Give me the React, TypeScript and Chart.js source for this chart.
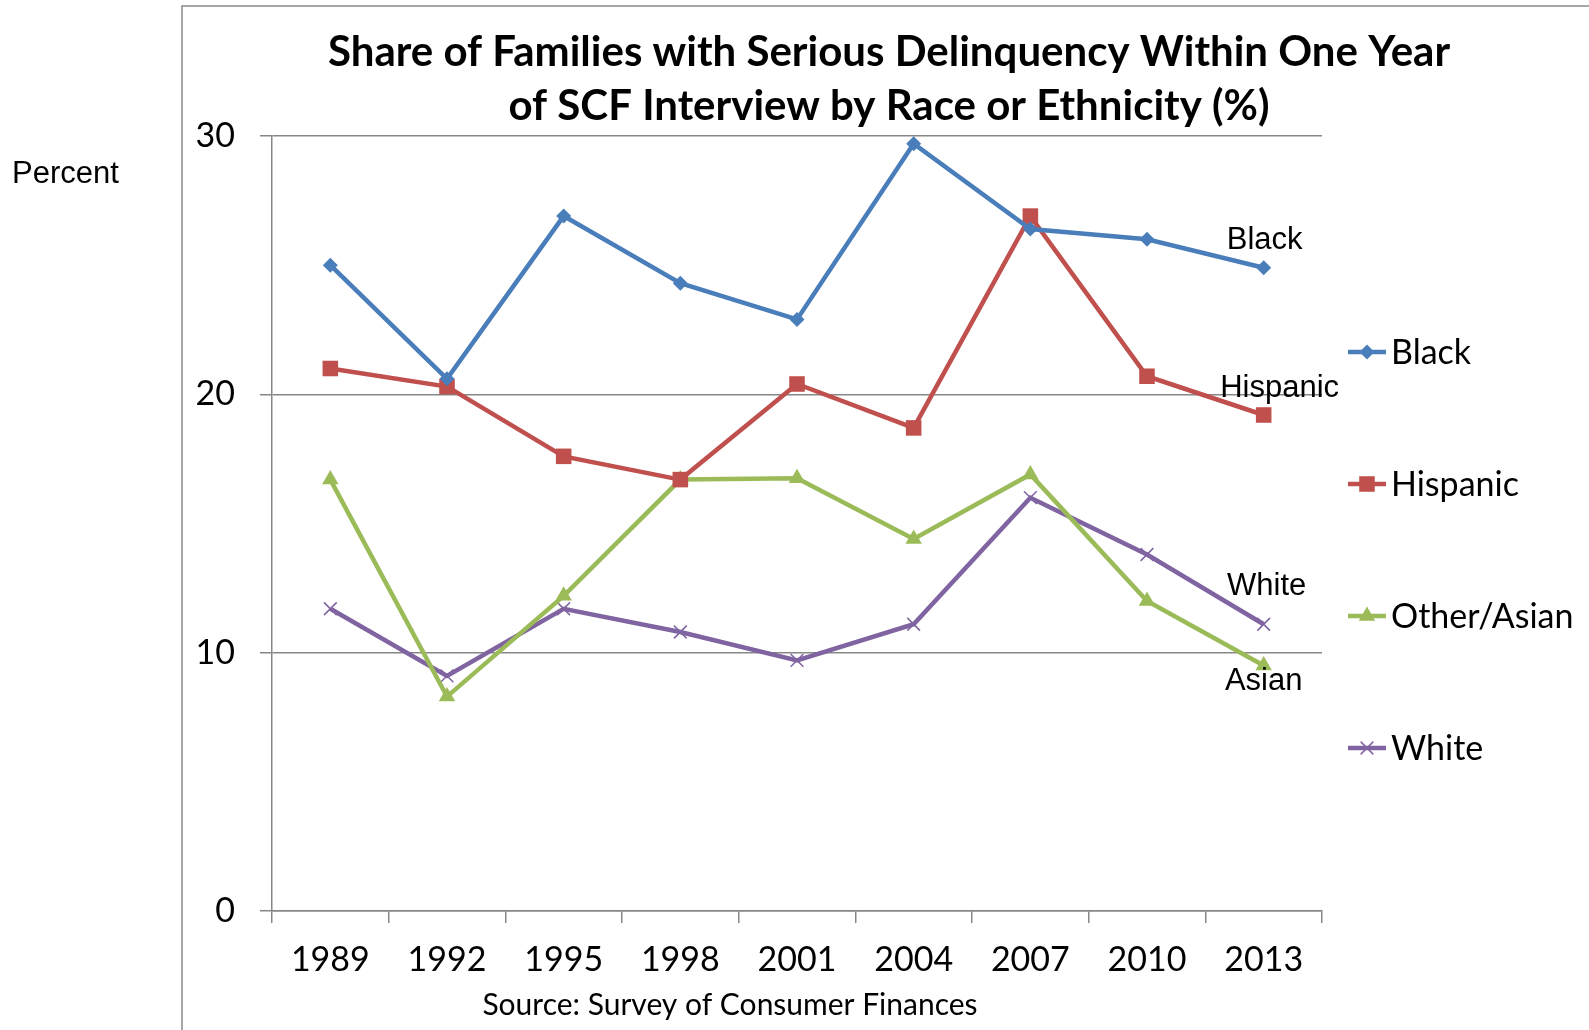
import React, { useEffect, useRef } from "react";
import { Chart, registerables } from "chart.js";

Chart.register(...registerables);

// Survey years and delinquency shares (%) by race or ethnicity
const years = ["1989", "1992", "1995", "1998", "2001", "2004", "2007", "2010", "2013"];
const black = [25.0, 20.6, 26.9, 24.3, 22.9, 29.7, 26.4, 26.0, 24.9];
const hispanic = [21.0, 20.3, 17.6, 16.7, 20.4, 18.7, 26.9, 20.7, 19.2];
const otherAsian = [16.7, 8.3, 12.2, 16.7, 16.75, 14.4, 16.9, 12.0, 9.5];
const white = [11.7, 9.1, 11.7, 10.8, 9.7, 11.1, 16.0, 13.8, 11.1];
const yTicks = [0, 10, 20, 30];

const seriesNames = ["Black", "Hispanic", "Other/Asian", "White"];
const seriesColors = ["#4A7EBB", "#C0504D", "#9BBB59", "#8064A2"];

const titleLines = [
  "Share of Families with Serious Delinquency Within One Year",
  "of SCF Interview by Race or Ethnicity (%)",
];
const sourceNote = "Source: Survey of Consumer Finances";
const yUnit = "Percent";

const SANS = "Lato, 'Open Sans', sans-serif";
const ARIAL = "'Liberation Sans', Arial, sans-serif";
const GRID = "#878787";

type Marker = "rectRot" | "rect" | "triangle" | "crossRot";
const markers: Marker[] = ["rectRot", "rect", "triangle", "crossRot"];
const markerRadius = [7.5, 11, 9.5, 9];

function drawMarker(ctx: CanvasRenderingContext2D, kind: Marker, x: number, y: number, r: number, color: string) {
  ctx.save();
  ctx.fillStyle = color;
  ctx.strokeStyle = color;
  ctx.beginPath();
  if (kind === "rectRot") {
    ctx.moveTo(x - r, y);
    ctx.lineTo(x, y - r);
    ctx.lineTo(x + r, y);
    ctx.lineTo(x, y + r);
    ctx.closePath();
    ctx.fill();
  } else if (kind === "rect") {
    const s = Math.SQRT1_2 * r;
    ctx.rect(x - s, y - s, 2 * s, 2 * s);
    ctx.fill();
  } else if (kind === "triangle") {
    for (let i = 0; i < 3; i++) {
      const a = (i * 2 * Math.PI) / 3;
      const px = x + Math.sin(a) * r;
      const py = y - Math.cos(a) * r;
      if (i === 0) ctx.moveTo(px, py);
      else ctx.lineTo(px, py);
    }
    ctx.closePath();
    ctx.fill();
  } else {
    const d = Math.SQRT1_2 * r;
    ctx.lineWidth = 1.5;
    ctx.moveTo(x - d, y - d);
    ctx.lineTo(x + d, y + d);
    ctx.moveTo(x + d, y - d);
    ctx.lineTo(x - d, y + d);
    ctx.stroke();
  }
  ctx.restore();
}

// Frame, title, unit label, end-of-line labels, legend and source note
const decorations = {
  id: "decorations",
  beforeDraw(chart: any) {
    const ctx: CanvasRenderingContext2D = chart.ctx;
    ctx.save();
    ctx.fillStyle = "#ffffff";
    ctx.fillRect(0, 0, chart.width, chart.height);
    ctx.strokeStyle = "#8a8a8a";
    ctx.lineWidth = 1.5;
    ctx.beginPath();
    ctx.moveTo(182, chart.height);
    ctx.lineTo(182, 6);
    ctx.lineTo(chart.width, 6);
    ctx.stroke();
    ctx.restore();
  },
  afterDraw(chart: any) {
    const ctx: CanvasRenderingContext2D = chart.ctx;
    const xs = chart.scales.x;
    const ys = chart.scales.y;
    ctx.save();
    ctx.fillStyle = "#000";
    ctx.textBaseline = "middle";

    // title
    ctx.font = `bold 42px ${SANS}`;
    ctx.textAlign = "center";
    ctx.fillText(titleLines[0], 889, 52);
    ctx.fillText(titleLines[1], 889, 106);

    // unit label
    ctx.font = `31px ${ARIAL}`;
    ctx.textAlign = "left";
    ctx.textBaseline = "alphabetic";
    ctx.fillText(yUnit, 12, 183);

    // labels at the end of each line
    ctx.textAlign = "center";
    ctx.textBaseline = "middle";
    const last = years.length - 1;
    const endX = xs.getPixelForValue(last);
    ctx.fillText("Black", endX + 1, ys.getPixelForValue(black[last]) - 27);
    ctx.fillText("Hispanic", endX + 16, ys.getPixelForValue(hispanic[last]) - 27);
    ctx.fillText("White", endX + 3, ys.getPixelForValue(white[last]) - 38);
    ctx.fillText("Asian", endX, ys.getPixelForValue(otherAsian[last]) + 16);

    // legend
    const legendY = [352, 484, 616, 748];
    ctx.font = `34px ${SANS}`;
    ctx.textAlign = "left";
    seriesNames.forEach((name, i) => {
      const y = legendY[i];
      ctx.strokeStyle = seriesColors[i];
      ctx.lineWidth = 4.5;
      ctx.beginPath();
      ctx.moveTo(1348, y);
      ctx.lineTo(1386, y);
      ctx.stroke();
      drawMarker(ctx, markers[i], 1367, y, markerRadius[i], seriesColors[i]);
      ctx.fillStyle = "#000";
      ctx.fillText(name, 1391, y + 1);
    });

    // source note
    ctx.font = `30px ${SANS}`;
    ctx.textAlign = "center";
    ctx.fillText(sourceNote, 730, 1005);
    ctx.restore();
  },
};

export default function App() {
  const canvasRef = useRef<HTMLCanvasElement | null>(null);

  useEffect(() => {
    document.body.style.margin = "0";
    const canvas = canvasRef.current;
    if (!canvas) return;
    const seriesData = [black, hispanic, otherAsian, white];
    const chart = new Chart(canvas, {
      type: "line",
      data: {
        labels: years,
        datasets: seriesNames.map((name, i) => ({
          label: name,
          data: seriesData[i],
          borderColor: seriesColors[i],
          backgroundColor: seriesColors[i],
          borderWidth: 4.5,
          pointStyle: markers[i],
          pointRadius: markerRadius[i],
          pointBorderWidth: markers[i] === "crossRot" ? 1.5 : 0,
          pointBorderColor: seriesColors[i],
          pointBackgroundColor: seriesColors[i],
          tension: 0,
        })),
      },
      options: {
        animation: false,
        responsive: false,
        devicePixelRatio: 1,
        layout: { padding: { left: 0, top: 136, right: 267, bottom: 0 } },
        plugins: {
          legend: { display: false },
          title: { display: false },
          tooltip: { enabled: false },
        },
        scales: {
          x: {
            offset: true,
            grid: {
              offset: true,
              drawOnChartArea: false,
              drawTicks: true,
              tickLength: 12,
              color: GRID,
              lineWidth: 1.5,
            },
            border: { display: true, color: GRID, width: 1.5 },
            ticks: {
              color: "#000",
              font: { family: SANS, size: 34 },
              padding: 17,
              maxRotation: 0,
              autoSkip: false,
            },
            afterFit: (s: any) => {
              s.height = 1030 - 911;
            },
          },
          y: {
            min: 0,
            max: 30,
            afterBuildTicks: (s: any) => {
              s.ticks = yTicks.map((v) => ({ value: v }));
            },
            grid: { color: GRID, lineWidth: 1.5, tickLength: 12, drawTicks: true },
            border: { display: true, color: GRID, width: 1.5 },
            ticks: {
              color: "#000",
              font: { family: SANS, size: 34 },
              padding: 25,
            },
            afterFit: (s: any) => {
              s.width = 272;
            },
          },
        },
      },
      plugins: [decorations],
    });
    return () => chart.destroy();
  }, []);

  return (
    <div style={{ position: "absolute", left: 0, top: 0 }}>
      <canvas ref={canvasRef} width={1589} height={1030} style={{ display: "block" }} />
    </div>
  );
}
